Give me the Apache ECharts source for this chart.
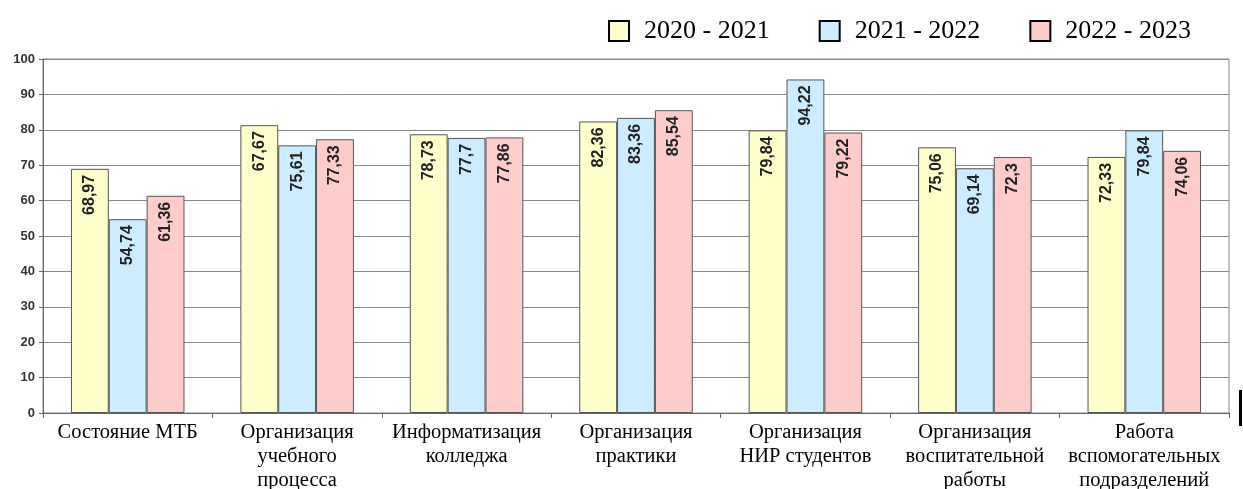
<!DOCTYPE html>
<html><head><meta charset="utf-8">
<script src="https://cdn.jsdelivr.net/npm/echarts@6/dist/echarts.min.js"></script>
<style>html,body{margin:0;padding:0;background:#fff}#c{width:1243px;height:489px}</style>
</head><body><div id="c"></div>
<script>
const categories = ['Состояние МТБ','Организация\nучебного\nпроцесса','Информатизация\nколледжа','Организация\nпрактики','Организация\nНИР студентов','Организация\nвоспитательной\nработы','Работа\nвспомогательных\nподразделений'];
const seriesNames = ['2020 - 2021','2021 - 2022','2022 - 2023'];
// bar heights as drawn in the picture
const v2020 = [68.97, 81.3, 78.73, 82.36, 79.84, 75.06, 72.33];
const v2021 = [54.74, 75.61, 77.7, 83.36, 94.22, 69.14, 79.84];
const v2022 = [61.36, 77.33, 77.86, 85.54, 79.22, 72.3, 74.06];
// data labels as printed in the picture
const l2020 = ['68,97','67,67','78,73','82,36','79,84','75,06','72,33'];
const l2021 = ['54,74','75,61','77,7','83,36','94,22','69,14','79,84'];
const l2022 = ['61,36','77,33','77,86','85,54','79,22','72,3','74,06'];
const yTicks = [0,10,20,30,40,50,60,70,80,90,100];

const colors = ['#FFFFCC','#CCECFF','#FFCCCC'];
const vals = [v2020, v2021, v2022];
const labs = [l2020, l2021, l2022];

const chart = echarts.init(document.getElementById('c'));
chart.setOption({
  backgroundColor:'#fff',
  animation:false,
  legend:{
    right: 47, top: 13, itemWidth:20, itemHeight:20, itemGap: 49,
    icon:'rect',
    textStyle:{fontFamily:'Liberation Serif', fontSize:26, color:'#000', padding:[0,0,0,10]},
    data: seriesNames.map((n,i)=>({name:n, itemStyle:{color:colors[i], borderColor:'#000', borderWidth:2}}))
  },
  grid:{left:43, right:14, top:59, bottom:76, show:true, borderColor:'#888', borderWidth:1, outerBoundsMode:'none', containLabel:false},
  xAxis:{
    type:'category', data:categories,
    axisLine:{lineStyle:{color:'#666', width:1}},
    axisTick:{show:true, length:5, lineStyle:{color:'#666'}},
    axisLabel:{interval:0, margin:8, fontFamily:'Liberation Serif', fontSize:20.5, lineHeight:24, color:'#000'}
  },
  yAxis:{
    type:'value', min:0, max:100, interval:10,
    axisLine:{show:true, lineStyle:{color:'#666'}},
    axisTick:{show:true, length:4, lineStyle:{color:'#666'}},
    splitLine:{lineStyle:{color:'#888', width:1}},
    axisLabel:{margin:8, fontFamily:'Liberation Sans', fontWeight:'bold', fontSize:13, color:'#333',
      formatter:(v)=> yTicks.includes(v) ? String(v) : ''}
  },
  series: seriesNames.map((n,i)=>({
    name:n, type:'bar', barGap:'0%', barCategoryGap:'33%',
    itemStyle:{color:colors[i], borderColor:'#555', borderWidth:1},
    data: vals[i].map((v,j)=>({value:v, label:{formatter:labs[i][j]}})),
    label:{show:true, position:'insideTop', rotate:90, align:'right', verticalAlign:'middle', distance:6,
      fontFamily:'Liberation Sans', fontWeight:'bold', fontSize:16, color:'#222'}
  })),
  graphic:[{type:'rect', shape:{x:1239, y:390, width:3, height:36}, style:{fill:'#000'}}]
});
</script></body></html>
